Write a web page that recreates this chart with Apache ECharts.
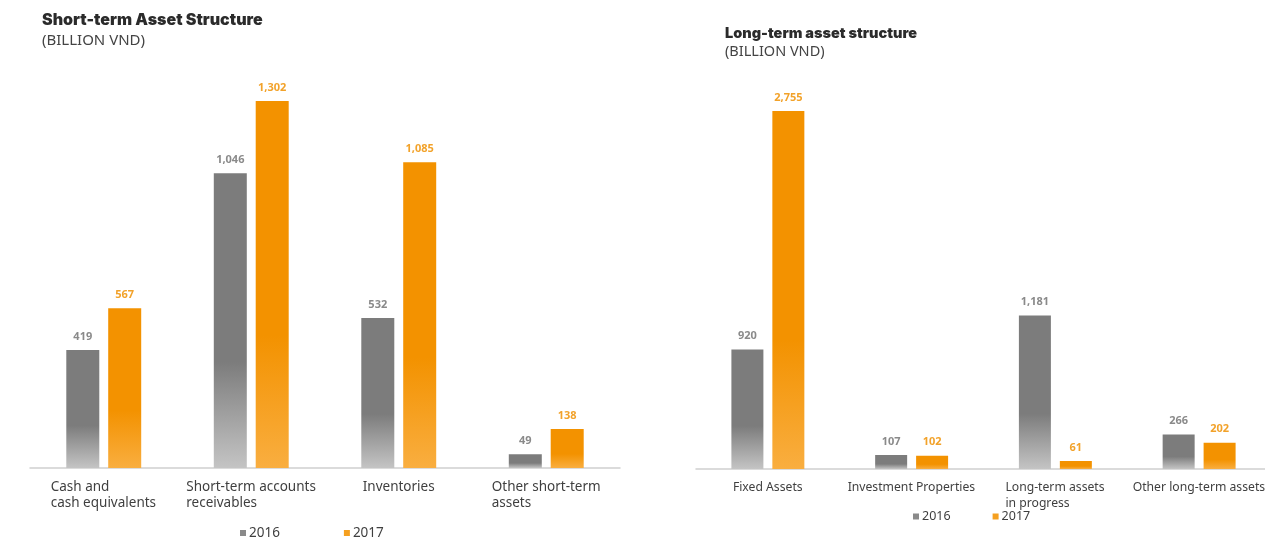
<!DOCTYPE html>
<html>
<head>
<meta charset="utf-8">
<style>
  html, body { margin: 0; padding: 0; background: #ffffff; }
  #chart { width: 1265px; height: 537px; }
</style>
<script src="https://cdn.jsdelivr.net/npm/echarts@6/dist/echarts.min.js"></script>
</head>
<body>
<div id="chart"></div>
<script>
// Short-term assets (billion VND)
const shortCategories = ['Cash and\ncash equivalents', 'Short-term accounts\nreceivables', 'Inventories', 'Other short-term\nassets'];
const short2016 = [419, 1046, 532, 49];
const short2017 = [567, 1302, 1085, 138];

// Long-term assets (billion VND)
const longCategories = ['Fixed Assets', 'Investment Properties', 'Long-term assets\nin progress', 'Other long-term assets'];
const long2016 = [920, 107, 1181, 266];
const long2017 = [2755, 102, 61, 202];

const yearNames = ['2016', '2017'];

const GREY = '#7c7c7c', GREY_LIGHT = '#c4c4c4';
const ORANGE = '#f39200', ORANGE_LIGHT = '#f9ae40';
const LABEL_FONT = 'Noto Sans';

// Measure each category's widest line so multi-line labels keep their lines left-aligned
const ctx = document.createElement('canvas').getContext('2d');
function richFor(cats, prefix, size, lineHeight) {
  ctx.font = size + 'px "' + LABEL_FONT + '"';
  const rich = {};
  cats.forEach((c, i) => {
    const w = Math.max(...c.split('\n').map(l => ctx.measureText(l).width));
    rich[prefix + i] = { width: Math.ceil(w), align: 'left', fontSize: size, fontFamily: LABEL_FONT, color: '#3f3f3f', lineHeight: lineHeight };
  });
  return rich;
}
function fmtFor(prefix) {
  return (value, idx) => value.split('\n').map(l => '{' + prefix + idx + '|' + l + '}').join('\n');
}

function grad(top, bottom) {
  return new echarts.graphic.LinearGradient(0, 0, 0, 1, [
    { offset: 0, color: top },
    { offset: 0.64, color: top },
    { offset: 1, color: bottom }
  ]);
}

function barSeries(name, data, axisIdx, isOrange, barWidth, gap) {
  return {
    name: name,
    type: 'bar',
    xAxisIndex: axisIdx,
    yAxisIndex: axisIdx,
    data: data,
    barWidth: barWidth,
    barGap: gap,
    itemStyle: { color: isOrange ? grad(ORANGE, ORANGE_LIGHT) : grad(GREY, GREY_LIGHT) },
    label: {
      show: true,
      position: 'top',
      distance: 8,
      fontFamily: LABEL_FONT,
      fontWeight: 'bold',
      fontSize: 11,
      color: isOrange ? '#f2a22a' : '#8a8a8a',
      formatter: p => p.value.toLocaleString('en-US')
    }
  };
}

const legendData = [
  { name: yearNames[0], itemStyle: { color: '#8a8a8a' } },
  { name: yearNames[1], itemStyle: { color: '#f5a020' } }
];
function legendAt(left, top, gap, size) {
  return {
    data: legendData,
    left: left, top: top, itemGap: gap,
    icon: 'rect',
    itemWidth: 6,
    itemHeight: 6,
    selectedMode: false,
    textStyle: { fontFamily: LABEL_FONT, fontSize: size, color: '#3f3f3f', padding: [0, 0, 0, -2] }
  };
}

const xAxisBase = {
  type: 'category',
  axisTick: { show: false },
  axisLine: { lineStyle: { color: '#cfcfcf', width: 1.5 } }
};

const chart = echarts.init(document.getElementById('chart'), null, { renderer: 'canvas' });
chart.setOption({
  animation: false,
  backgroundColor: '#ffffff',
  title: [
    {
      text: 'Short-term Asset Structure',
      subtext: '(BILLION VND)',
      left: 42, top: 12, padding: 0, itemGap: 5,
      textStyle: { fontFamily: 'Inter', fontWeight: 900, fontSize: 16, color: '#2b2b2b' },
      subtextStyle: { fontFamily: LABEL_FONT, fontSize: 15, color: '#444444' }
    },
    {
      text: 'Long-term asset structure',
      subtext: '(BILLION VND)',
      left: 725, top: 26, padding: 0, itemGap: 3,
      textStyle: { fontFamily: 'Inter', fontWeight: 900, fontSize: 14.5, color: '#2b2b2b' },
      subtextStyle: { fontFamily: LABEL_FONT, fontSize: 14.5, color: '#444444' }
    }
  ],
  legend: [
    legendAt(235, 521, 64, 13.5),
    legendAt(908, 505, 42, 12.5)
  ],
  grid: [
    { left: 30, width: 590, top: 73.4, height: 394.6, outerBoundsMode: 'none' },
    { left: 696, width: 575, top: 79.2, height: 389.8, outerBoundsMode: 'none' }
  ],
  xAxis: [
    Object.assign({}, xAxisBase, {
      gridIndex: 0, data: shortCategories,
      axisLabel: { margin: 11, interval: 0, formatter: fmtFor('s'), rich: richFor(shortCategories, 's', 13.5, 16) }
    }),
    Object.assign({}, xAxisBase, {
      gridIndex: 1, data: longCategories,
      axisLabel: { margin: 11, interval: 0, formatter: fmtFor('l'), rich: richFor(longCategories, 'l', 12.2, 16) }
    })
  ],
  yAxis: [
    { type: 'value', gridIndex: 0, min: 0, max: 1400, show: false, splitLine: { show: false } },
    { type: 'value', gridIndex: 1, min: 0, max: 3000, show: false, splitLine: { show: false } }
  ],
  series: [
    barSeries(yearNames[0], short2016, 0, false, 33, '27%'),
    barSeries(yearNames[1], short2017, 0, true, 33, '27%'),
    barSeries(yearNames[0], long2016, 1, false, 32, '28%'),
    barSeries(yearNames[1], long2017, 1, true, 32, '28%')
  ]
});
</script>
</body>
</html>
